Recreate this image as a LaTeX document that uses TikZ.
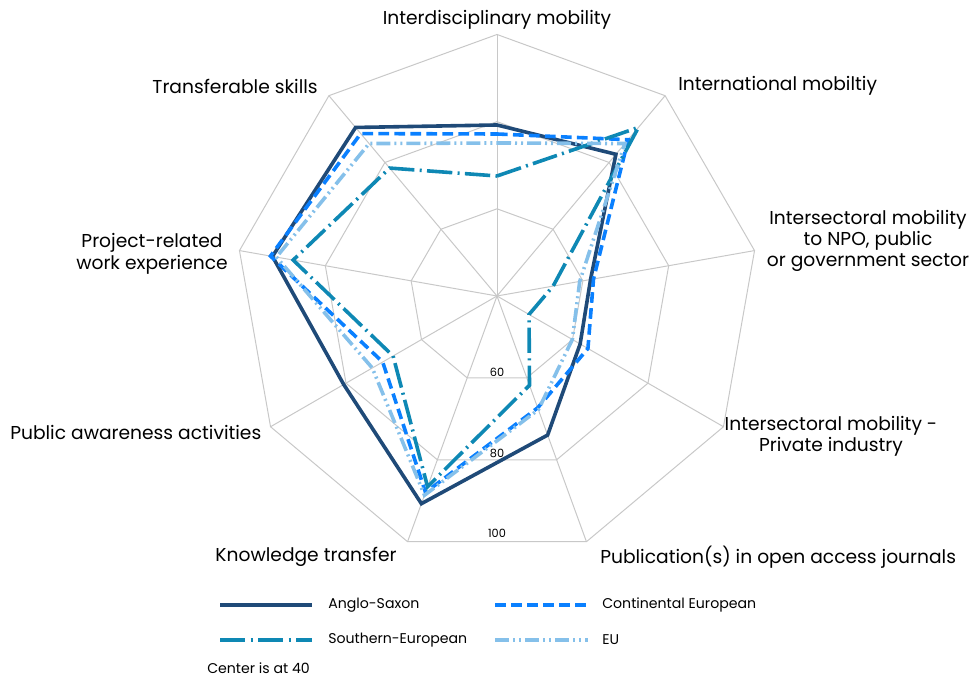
\documentclass[tikz,border=0pt]{standalone}
\usepackage{fontspec}
\setmainfont{Poppins}
\definecolor{anglo}{HTML}{1F4A78}
\definecolor{conti}{HTML}{0A80FF}
\definecolor{south}{HTML}{0E88B4}
\definecolor{eu}{HTML}{85C0EA}
\definecolor{gridc}{HTML}{C8C8C8}
\tikzset{
  gridline/.style={draw=gridc, line width=0.75pt},
  anglostyle/.style={draw=anglo, line width=2.7pt},
  contistyle/.style={draw=conti, line width=2.7pt, dash pattern=on 8pt off 4pt},
  southstyle/.style={draw=south, line width=2.7pt, dash pattern=on 19pt off 4pt on 1.5pt off 4pt},
  eustyle/.style={draw=eu, line width=2.7pt, dash pattern=on 10.5pt off 3pt on 1.5pt off 3pt on 1.5pt off 3pt},
  axlabel/.style={font=\fontsize{14}{16}\selectfont, text=black, inner sep=0pt, align=center},
  ticklabel/.style={font=\fontsize{8.5}{10}\selectfont, text=black, inner sep=0pt},
  legtext/.style={font=\fontsize{10.6}{12}\selectfont, text=black, inner sep=0pt, anchor=west},
}
\begin{document}
\begin{tikzpicture}[x=0.75pt,y=0.75pt]
\useasboundingbox (0,0) rectangle (975,677);
\begin{scope}[shift={(497,381)}]
  % grid rings
  \foreach \r in {87.17,174.33,261.5}{
    \draw[gridline] (90:\r) -- (50:\r) -- (10:\r) -- (-30:\r) -- (-70:\r) -- (-110:\r) -- (-150:\r) -- (170:\r) -- (130:\r) -- cycle;
  }
  % spokes
  \foreach \a in {90,50,10,-30,-70,-110,-150,170,130}{
    \draw[gridline] (0,0) -- (\a:261.5);
  }
  % tick labels
  \node[ticklabel] (t60) at (0,-76) {60};
  \node[ticklabel] (t80) at (0,-157) {80};
  \node[ticklabel] (t100) at (0,-237) {100};
  % series
  \draw[anglostyle] (90:171) -- (50:185) -- (10:95) -- (-30:96) -- (-70:148) -- (-110:221) -- (-150:177) -- (170:228) -- (130:220) -- cycle;
  \draw[contistyle] (90:162) -- (50:204) -- (10:98) -- (-30:105) -- (-70:119) -- (-110:209) -- (-150:132) -- (170:230) -- (130:212) -- cycle;
  \draw[southstyle] (90:120) -- (50:220) -- (10:57) -- (-30:37) -- (-70:95) -- (-110:203) -- (-150:120) -- (170:207) -- (130:167) -- cycle;
  \draw[eustyle] (90:153) -- (50:199) -- (10:84) -- (-30:87) -- (-70:121) -- (-110:212) -- (-150:144) -- (170:224) -- (130:199) -- cycle;
\end{scope}
% axis labels
\node[axlabel] (l0) at (497,657) {Interdisciplinary mobility};
\node[axlabel, anchor=east] (l8) at (318,591) {Transferable skills};
\node[axlabel, anchor=west] (l1) at (678,591) {International mobiltiy};
\node[axlabel] (l2) at (868,436) {Intersectoral mobility\\to NPO, public\\or government sector};
\node[axlabel] (l3) at (831,241) {Intersectoral mobility -\\Private industry};
\node[axlabel, anchor=west] (l4) at (600,120) {Publication(s) in open access journals};
\node[axlabel] (l5) at (306,120) {Knowledge transfer};
\node[axlabel, anchor=west] (l6) at (10,245) {Public awareness activities};
\node[axlabel] (l7) at (152,423) {Project-related\\work experience};
% legend
\coordinate (a1) at (220,72); \coordinate (a2) at (312,72);
\coordinate (c1) at (495,72); \coordinate (c2) at (588,72);
\coordinate (s1) at (220,37); \coordinate (s2) at (312,37);
\coordinate (e1) at (495,37); \coordinate (e2) at (588,37);
\draw[anglostyle] (a1) -- (a2);
\draw[contistyle] (c1) -- (c2);
\draw[southstyle] (s1) -- (s2);
\draw[eustyle] (e1) -- (e2);
\node[legtext] (la) at (328,72) {Anglo-Saxon};
\node[legtext] (lc) at (602,72) {Continental European};
\node[legtext] (ls) at (328,37) {Southern-European};
\node[legtext] (le) at (602,37) {EU};
\node[legtext] (lcenter) at (207,9) {Center is at 40};
\end{tikzpicture}
\end{document}
